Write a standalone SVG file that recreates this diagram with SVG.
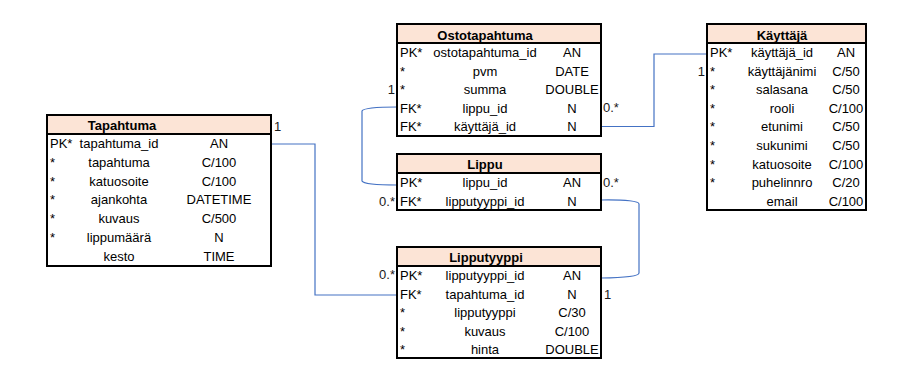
<svg xmlns="http://www.w3.org/2000/svg" width="910" height="382" viewBox="0 0 910 382">
  <style>
    text { font-family: "Liberation Sans", Arial, sans-serif; font-size: 13px; fill: #000; }
    .title { font-weight: bold; text-anchor: middle; }
    .name { text-anchor: middle; }
    .type { text-anchor: middle; }
    .key { text-anchor: start; }
    .card { fill: #1a1a1a; }
    .card-r { fill: #1a1a1a; text-anchor: end; }
    .head { fill: #FCE4D6; stroke: none; }
    .frame { fill: none; stroke: #000; stroke-width: 2; }
    .sep { stroke: #000; stroke-width: 2; }
    .link { fill: none; stroke: #4472C4; stroke-width: 1.2; }
  </style>

  <rect width="910" height="382" fill="#fff"/>

  <!-- relationship lines -->
  <g id="connectors">
    <path class="link" d="M397,107 Q364,107 362,111 V181 Q364,185 397,185"/>
    <path class="link" d="M601,126.5 H654 V54 H707"/>
    <path class="link" d="M601,200 Q639,199.5 639,204 V273 Q639,277.5 601,278"/>
    <path class="link" d="M271,144 H315 V295 H397"/>
  </g>

  <!-- cardinalities -->
  <g id="cardinalities">
    <text class="card-r" x="395" y="94">1</text>
    <text class="card" x="603" y="112">0.*</text>
    <text class="card-r" x="705" y="75.5">1</text>
    <text class="card" x="274" y="131">1</text>
    <text class="card" x="603" y="187">0.*</text>
    <text class="card-r" x="395" y="205.5">0.*</text>
    <text class="card-r" x="395" y="279">0.*</text>
    <text class="card" x="604" y="298.5">1</text>
  </g>

  <!-- Ostotapahtuma -->
  <g id="ostotapahtuma">
    <rect x="397" y="24" width="204" height="112" fill="#fff"/>
    <rect class="head" x="397" y="24" width="204" height="19"/>
    <line class="sep" x1="397" y1="43" x2="601" y2="43"/>
    <rect class="frame" x="397" y="24" width="204" height="112"/>
    <text class="title" x="485" y="39.5">Ostotapahtuma</text>
    <text class="key" x="400" y="57">PK*</text>
    <text class="name" x="485" y="57">ostotapahtuma_id</text>
    <text class="type" x="572" y="57">AN</text>
    <text class="key" x="400" y="75.5">*</text>
    <text class="name" x="485" y="75.5">pvm</text>
    <text class="type" x="572" y="75.5">DATE</text>
    <text class="key" x="400" y="94">*</text>
    <text class="name" x="485" y="94">summa</text>
    <text class="type" x="572" y="94">DOUBLE</text>
    <text class="key" x="400" y="112.5">FK*</text>
    <text class="name" x="485" y="112.5">lippu_id</text>
    <text class="type" x="572" y="112.5">N</text>
    <text class="key" x="400" y="131">FK*</text>
    <text class="name" x="485" y="131">käyttäjä_id</text>
    <text class="type" x="572" y="131">N</text>
  </g>

  <!-- Käyttäjä -->
  <g id="kayttaja">
    <rect x="707" y="24" width="159" height="186" fill="#fff"/>
    <rect class="head" x="707" y="24" width="159" height="19"/>
    <line class="sep" x1="707" y1="43" x2="866" y2="43"/>
    <rect class="frame" x="707" y="24" width="159" height="186"/>
    <text class="title" x="782" y="39.5">Käyttäjä</text>
    <text class="key" x="710" y="57">PK*</text>
    <text class="name" x="782" y="57">käyttäjä_id</text>
    <text class="type" x="846" y="57">AN</text>
    <text class="key" x="710" y="75.6">*</text>
    <text class="name" x="782" y="75.6">käyttäjänimi</text>
    <text class="type" x="846" y="75.6">C/50</text>
    <text class="key" x="710" y="94.2">*</text>
    <text class="name" x="782" y="94.2">salasana</text>
    <text class="type" x="846" y="94.2">C/50</text>
    <text class="key" x="710" y="112.8">*</text>
    <text class="name" x="782" y="112.8">rooli</text>
    <text class="type" x="846" y="112.8">C/100</text>
    <text class="key" x="710" y="131.4">*</text>
    <text class="name" x="782" y="131.4">etunimi</text>
    <text class="type" x="846" y="131.4">C/50</text>
    <text class="key" x="710" y="150">*</text>
    <text class="name" x="782" y="150">sukunimi</text>
    <text class="type" x="846" y="150">C/50</text>
    <text class="key" x="710" y="168.6">*</text>
    <text class="name" x="782" y="168.6">katuosoite</text>
    <text class="type" x="846" y="168.6">C/100</text>
    <text class="key" x="710" y="187.2">*</text>
    <text class="name" x="782" y="187.2">puhelinnro</text>
    <text class="type" x="846" y="187.2">C/20</text>
    <text class="name" x="782" y="205.8">email</text>
    <text class="type" x="846" y="205.8">C/100</text>
  </g>

  <!-- Tapahtuma -->
  <g id="tapahtuma">
    <rect x="47" y="115" width="224" height="151" fill="#fff"/>
    <rect class="head" x="47" y="115" width="224" height="19"/>
    <line class="sep" x1="47" y1="134" x2="271" y2="134"/>
    <rect class="frame" x="47" y="115" width="224" height="151"/>
    <text class="title" x="122" y="130">Tapahtuma</text>
    <text class="key" x="50" y="148">PK*</text>
    <text class="name" x="119" y="148">tapahtuma_id</text>
    <text class="type" x="219" y="148">AN</text>
    <text class="key" x="50" y="166.8">*</text>
    <text class="name" x="119" y="166.8">tapahtuma</text>
    <text class="type" x="219" y="166.8">C/100</text>
    <text class="key" x="50" y="185.6">*</text>
    <text class="name" x="119" y="185.6">katuosoite</text>
    <text class="type" x="219" y="185.6">C/100</text>
    <text class="key" x="50" y="204.4">*</text>
    <text class="name" x="119" y="204.4">ajankohta</text>
    <text class="type" x="219" y="204.4">DATETIME</text>
    <text class="key" x="50" y="223.2">*</text>
    <text class="name" x="119" y="223.2">kuvaus</text>
    <text class="type" x="219" y="223.2">C/500</text>
    <text class="key" x="50" y="242">*</text>
    <text class="name" x="119" y="242">lippumäärä</text>
    <text class="type" x="219" y="242">N</text>
    <text class="name" x="119" y="260.8">kesto</text>
    <text class="type" x="219" y="260.8">TIME</text>
  </g>

  <!-- Lippu -->
  <g id="lippu">
    <rect x="397" y="154" width="204" height="56" fill="#fff"/>
    <rect class="head" x="397" y="154" width="204" height="19"/>
    <line class="sep" x1="397" y1="173" x2="601" y2="173"/>
    <rect class="frame" x="397" y="154" width="204" height="56"/>
    <text class="title" x="485" y="169">Lippu</text>
    <text class="key" x="400" y="187">PK*</text>
    <text class="name" x="485" y="187">lippu_id</text>
    <text class="type" x="572" y="187">AN</text>
    <text class="key" x="400" y="205.5">FK*</text>
    <text class="name" x="485" y="205.5">lipputyyppi_id</text>
    <text class="type" x="572" y="205.5">N</text>
  </g>

  <!-- Lipputyyppi -->
  <g id="lipputyyppi">
    <rect x="397" y="247" width="204" height="111" fill="#fff"/>
    <rect class="head" x="397" y="247" width="204" height="19"/>
    <line class="sep" x1="397" y1="266" x2="601" y2="266"/>
    <rect class="frame" x="397" y="247" width="204" height="111"/>
    <text class="title" x="486" y="262">Lipputyyppi</text>
    <text class="key" x="400" y="280">PK*</text>
    <text class="name" x="485" y="280">lipputyyppi_id</text>
    <text class="type" x="572" y="280">AN</text>
    <text class="key" x="400" y="298.5">FK*</text>
    <text class="name" x="485" y="298.5">tapahtuma_id</text>
    <text class="type" x="572" y="298.5">N</text>
    <text class="key" x="400" y="317">*</text>
    <text class="name" x="485" y="317">lipputyyppi</text>
    <text class="type" x="572" y="317">C/30</text>
    <text class="key" x="400" y="335.5">*</text>
    <text class="name" x="485" y="335.5">kuvaus</text>
    <text class="type" x="572" y="335.5">C/100</text>
    <text class="key" x="400" y="354">*</text>
    <text class="name" x="485" y="354">hinta</text>
    <text class="type" x="572" y="354">DOUBLE</text>
  </g>
</svg>
